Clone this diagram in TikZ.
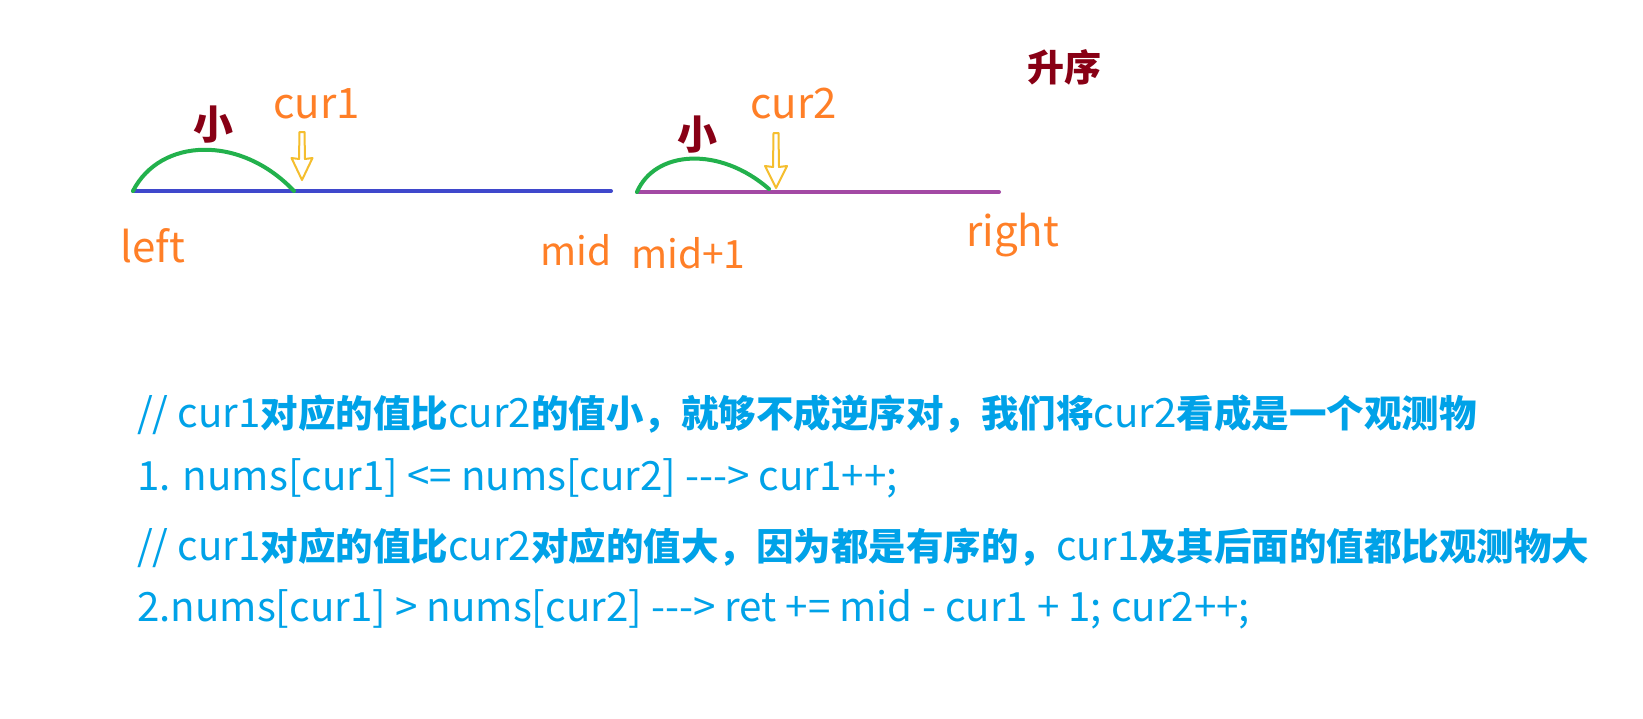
\documentclass[tikz,border=0pt]{standalone}
\usepackage{fontspec}
\setmainfont{Noto Sans CJK SC}[Ligatures=TeXOff]
\definecolor{orangec}{HTML}{FF7F27}
\definecolor{darkred}{HTML}{880015}
\definecolor{blueline}{HTML}{3F48CC}
\definecolor{purpleline}{HTML}{A349A4}
\definecolor{greenc}{HTML}{22B14C}
\definecolor{yel}{HTML}{F5BE2E}
\definecolor{bluet}{HTML}{00A2E8}
\newcommand\zh[1]{{\bfseries\fontsize{37.5}{37.5}\selectfont #1}}
\tikzset{
  lbl/.style={text=orangec, anchor=base west, inner sep=0pt, font=\fontsize{42}{42}\selectfont},
  zhred/.style={text=darkred, inner sep=0pt, font=\bfseries\fontsize{40}{40}\selectfont},
  codeline/.style={text=bluet, anchor=base west, inner sep=0pt, font=\fontsize{40.3}{40.3}\selectfont},
  seg/.style={line width=4pt, line cap=round},
  greenarc/.style={draw=greenc, line width=4pt, line cap=round},
  hollowarrow/.style={draw=yel, line width=2pt, line join=round}
}
\begin{document}
\begin{tikzpicture}[x=1pt,y=-1pt]
\fill[white] (0,0) rectangle (1643,718);
\useasboundingbox (0,0) rectangle (1643,718);

% axis segments
\coordinate (L) at (133,191);
\coordinate (M) at (611,191);
\coordinate (M1) at (637,192);
\coordinate (R) at (999,192);
\draw[seg, draw=blueline] (L) -- (M);
\draw[seg, draw=purpleline] (M1) -- (R);

% green arcs
\coordinate (c1end) at (294,191);
\coordinate (c2end) at (769,189);
\draw[greenarc] (L) .. controls (160,138) and (240,134) .. (c1end);
\draw[greenarc] (M1) .. controls (655,150) and (720,146) .. (c2end);

% hollow arrows
\coordinate (a1) at (302,180);
\coordinate (a2) at (776,188);
\draw[hollowarrow, shift={(a1)}] (-2.5,-48) -- (2.5,-48) -- (3,-21) -- (10.5,-22) -- (0,0) -- (-10.5,-22) -- (-3,-21) -- cycle;
\draw[hollowarrow, shift={(a2)}] (-2.5,-55) -- (2.5,-55) -- (3,-21) -- (11,-22) -- (0,0) -- (-11,-22) -- (-3,-21) -- cycle;

% labels
\node[lbl] (cur1) at (273,118) {cur1};
\node[lbl] (cur2) at (750,118) {cur2};
\node[lbl] (left) at (120,262) {left};
\node[lbl, font=\fontsize{39}{39}\selectfont] (mid) at (540,265) {mid};
\node[lbl, font=\fontsize{39}{39}\selectfont] (mid1) at (631,268) {mid+1};
\node[lbl] (right) at (966,246) {right};
\node[zhred] (small1) at (213,125) {小};
\node[zhred] (small2) at (697,135) {小};
\node[zhred, font=\bfseries\fontsize{37}{37}\selectfont] (asc) at (1064,67) {升序};

% text lines
\node[codeline] (t1) at (137,427) {// cur1\zh{对应的值比}cur2\zh{的值小，就够不成逆序对，我们将}cur2\zh{看成是一个观测物}};
\node[codeline] (t2) at (137,490) {1. nums[cur1] <= nums[cur2] ---> cur1++;};
\node[codeline] (t3) at (137,560) {// cur1\zh{对应的值比}cur2\zh{对应的值大，因为都是有序的，}cur1\zh{及其后面的值都比观测物大}};
\node[codeline] (t4) at (137,621) {2.nums[cur1] > nums[cur2] ---> ret += mid - cur1 + 1; cur2++;};
\end{tikzpicture}
\end{document}
